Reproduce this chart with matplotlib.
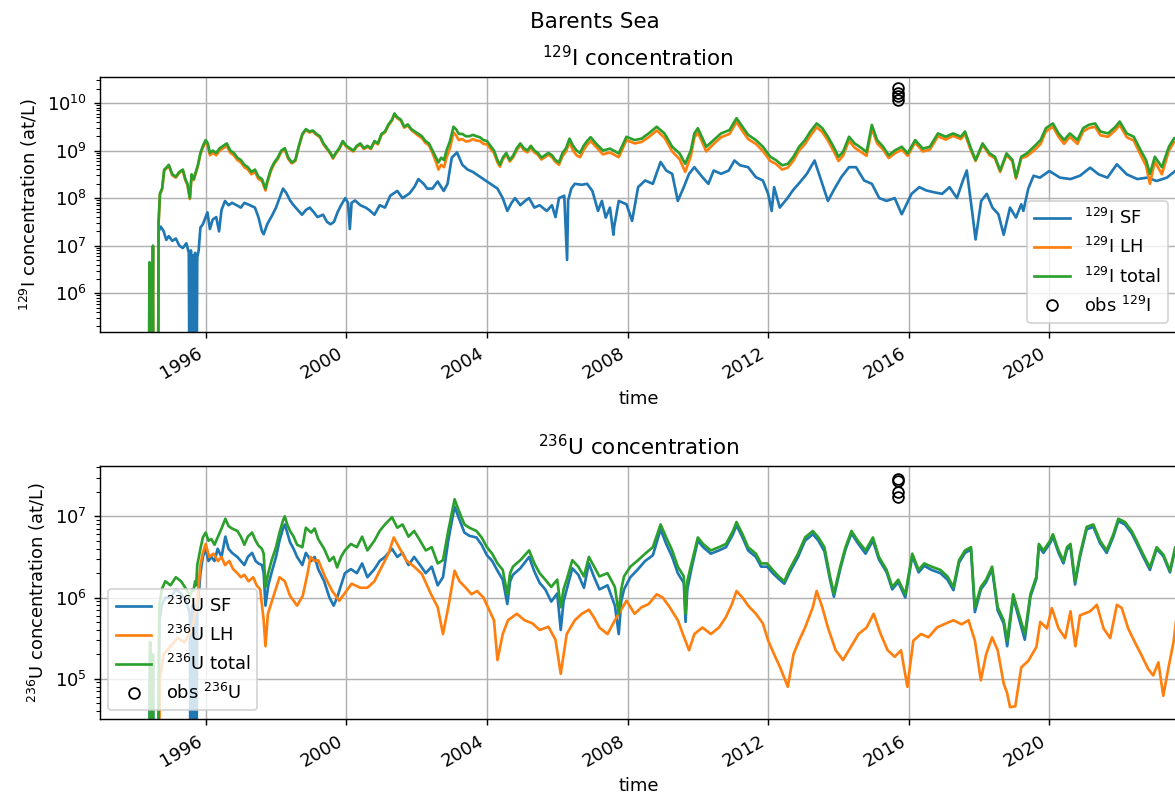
import numpy as np
import matplotlib
matplotlib.use("Agg")
import matplotlib.pyplot as plt

# ---- data (time in decimal years, values as log10 at/L) ----
# values of 2 / 3 mean "essentially zero" (line drops below the axis)

# 129I total and 129I LH share one time grid
i_t = [1994.38, 1994.40, 1994.43, 1994.46, 1994.50, 1994.52, 1994.64, 1994.66, 1994.70, 1994.76,
       1994.82, 1994.88, 1994.95, 1995.05, 1995.15, 1995.25, 1995.35, 1995.42, 1995.48, 1995.55,
       1995.60, 1995.66, 1995.72, 1995.78, 1995.85, 1995.92, 1996.00, 1996.06, 1996.12, 1996.20,
       1996.30, 1996.40, 1996.50, 1996.60, 1996.70, 1996.80, 1996.90, 1997.00, 1997.10, 1997.20,
       1997.30, 1997.40, 1997.50, 1997.60, 1997.70, 1997.75, 1997.85, 1997.95, 1998.05, 1998.15,
       1998.25, 1998.35, 1998.45, 1998.55, 1998.65, 1998.75, 1998.85, 1998.95, 1999.05, 1999.15,
       1999.25, 1999.35, 1999.45, 1999.55, 1999.62, 1999.70, 1999.80, 1999.90, 2000.00, 2000.10,
       2000.20, 2000.30, 2000.40, 2000.50, 2000.60, 2000.70, 2000.80, 2000.90, 2001.00, 2001.10,
       2001.20, 2001.30, 2001.37, 2001.45, 2001.55, 2001.65, 2001.75, 2001.85, 2001.95, 2002.05,
       2002.15, 2002.25, 2002.35, 2002.45, 2002.55, 2002.62, 2002.70, 2002.78, 2002.85, 2002.95,
       2003.05, 2003.12, 2003.20, 2003.30, 2003.40, 2003.50, 2003.60, 2003.70, 2003.80, 2003.90,
       2004.00, 2004.10, 2004.20, 2004.30, 2004.37, 2004.45, 2004.55, 2004.65, 2004.75, 2004.85,
       2004.95, 2005.05, 2005.15, 2005.25, 2005.35, 2005.45, 2005.55, 2005.65, 2005.75, 2005.85,
       2005.95, 2006.05, 2006.15, 2006.25, 2006.35, 2006.45, 2006.55, 2006.65, 2006.75, 2006.85,
       2006.95, 2007.10, 2007.30, 2007.50, 2007.75, 2007.97, 2008.20, 2008.40, 2008.60, 2008.83,
       2009.05, 2009.27, 2009.48, 2009.64, 2009.80, 2009.90, 2010.00, 2010.24, 2010.45, 2010.66,
       2010.90, 2011.10, 2011.27, 2011.43, 2011.65, 2011.85, 2012.06, 2012.22, 2012.40, 2012.56,
       2012.72, 2012.88, 2013.05, 2013.20, 2013.38, 2013.54, 2013.70, 2013.86, 2014.00, 2014.13,
       2014.30, 2014.46, 2014.60, 2014.80, 2014.95, 2015.10, 2015.27, 2015.43, 2015.60, 2015.80,
       2015.97, 2016.18, 2016.40, 2016.60, 2016.83, 2017.05, 2017.26, 2017.48, 2017.60, 2017.75,
       2017.90, 2018.10, 2018.30, 2018.45, 2018.60, 2018.78, 2018.95, 2019.05, 2019.20, 2019.36,
       2019.56, 2019.75, 2019.90, 2020.10, 2020.26, 2020.42, 2020.58, 2020.80, 2020.96, 2021.12,
       2021.30, 2021.45, 2021.67, 2021.88, 2022.00, 2022.20, 2022.40, 2022.60, 2022.75, 2022.86,
       2023.00, 2023.20, 2023.40, 2023.55, 2023.75]
i_total = [2, 6.65, 6.60, 2, 7.00, 2, 2, 7.50, 8.10, 8.20,
           8.60, 8.64, 8.70, 8.50, 8.45, 8.55, 8.60, 8.40, 8.30, 8.00,
           8.50, 8.40, 8.55, 8.70, 8.95, 9.10, 9.22, 9.15, 8.95, 9.00,
           8.95, 9.05, 9.10, 9.15, 9.00, 8.95, 8.85, 8.80, 8.70, 8.65,
           8.55, 8.60, 8.45, 8.40, 8.20, 8.35, 8.60, 8.75, 8.85, 9.00,
           9.05, 8.85, 8.75, 8.80, 9.10, 9.35, 9.45, 9.40, 9.42, 9.35,
           9.30, 9.15, 9.05, 8.95, 8.85, 8.95, 9.05, 9.20, 9.10, 9.05,
           9.00, 9.10, 9.15, 9.05, 9.10, 9.05, 9.20, 9.15, 9.35, 9.40,
           9.55, 9.65, 9.78, 9.70, 9.65, 9.50, 9.55, 9.45, 9.40, 9.35,
           9.30, 9.20, 9.15, 9.00, 8.85, 8.75, 8.85, 8.80, 9.00, 9.20,
           9.50, 9.45, 9.35, 9.35, 9.30, 9.30, 9.33, 9.30, 9.28, 9.22,
           9.20, 9.10, 9.00, 8.80, 8.70, 8.85, 8.95, 8.80, 8.90, 9.05,
           9.15, 9.05, 9.00, 9.10, 9.00, 8.95, 8.85, 8.90, 8.95, 8.90,
           8.80, 8.75, 8.95, 9.05, 9.25, 9.10, 9.00, 8.95, 9.10, 9.20,
           9.28, 9.15, 9.00, 9.04, 8.94, 9.29, 9.22, 9.25, 9.36, 9.50,
           9.36, 9.08, 8.94, 8.72, 9.00, 9.36, 9.47, 9.08, 9.22, 9.36,
           9.43, 9.68, 9.50, 9.33, 9.22, 9.08, 8.87, 8.80, 8.69, 8.72,
           8.87, 9.08, 9.22, 9.40, 9.57, 9.47, 9.29, 9.08, 8.87, 8.97,
           9.29, 9.15, 9.08, 8.97, 9.54, 9.22, 9.08, 8.90, 9.00, 9.08,
           8.94, 9.22, 9.04, 9.08, 9.36, 9.29, 9.36, 9.29, 9.40, 9.08,
           8.80, 9.15, 8.94, 8.87, 8.58, 8.94, 8.80, 8.44, 8.87, 8.94,
           9.08, 9.22, 9.47, 9.57, 9.36, 9.22, 9.36, 9.22, 9.47, 9.54,
           9.57, 9.40, 9.36, 9.50, 9.61, 9.36, 9.29, 9.00, 8.80, 8.51,
           8.87, 8.65, 9.08, 9.26, 9.30]
i_lh = [2, 6.63, 6.58, 2, 6.98, 2, 2, 7.46, 8.08, 8.18,
        8.58, 8.62, 8.68, 8.48, 8.43, 8.53, 8.58, 8.38, 8.28, 7.98,
        8.48, 8.38, 8.53, 8.68, 8.92, 9.06, 9.18, 9.10, 8.90, 8.95,
        8.90, 9.00, 9.05, 9.10, 8.95, 8.90, 8.80, 8.75, 8.65, 8.60,
        8.50, 8.55, 8.40, 8.36, 8.16, 8.31, 8.56, 8.72, 8.82, 8.97,
        9.02, 8.82, 8.73, 8.78, 9.08, 9.33, 9.43, 9.38, 9.40, 9.33,
        9.28, 9.13, 9.03, 8.93, 8.83, 8.93, 9.03, 9.18, 9.08, 9.03,
        8.98, 9.08, 9.13, 9.03, 9.08, 9.03, 9.18, 9.13, 9.33, 9.38,
        9.53, 9.63, 9.76, 9.68, 9.63, 9.48, 9.53, 9.43, 9.37, 9.31,
        9.26, 9.16, 9.11, 8.95, 8.76, 8.60, 8.70, 8.65, 8.85, 9.05,
        9.38, 9.32, 9.22, 9.24, 9.19, 9.20, 9.24, 9.21, 9.20, 9.14,
        9.13, 9.04, 8.95, 8.75, 8.66, 8.81, 8.92, 8.77, 8.86, 9.01,
        9.11, 9.01, 8.96, 9.06, 8.96, 8.91, 8.81, 8.86, 8.91, 8.86,
        8.76, 8.70, 8.88, 8.98, 9.18, 9.00, 8.90, 8.86, 9.01, 9.12,
        9.20, 9.08, 8.92, 8.96, 8.86, 9.22, 9.15, 9.18, 9.28, 9.42,
        9.27, 8.98, 8.82, 8.55, 8.88, 9.27, 9.38, 8.98, 9.14, 9.28,
        9.35, 9.60, 9.41, 9.24, 9.14, 8.99, 8.78, 8.72, 8.60, 8.64,
        8.79, 9.00, 9.14, 9.31, 9.49, 9.39, 9.21, 8.99, 8.78, 8.89,
        9.21, 9.06, 8.99, 8.89, 9.46, 9.15, 9.02, 8.84, 8.94, 9.02,
        8.89, 9.17, 8.98, 9.02, 9.30, 9.23, 9.31, 9.24, 9.35, 9.03,
        8.78, 9.12, 8.90, 8.84, 8.55, 8.91, 8.77, 8.41, 8.84, 8.88,
        9.00, 9.14, 9.40, 9.50, 9.29, 9.14, 9.29, 9.14, 9.40, 9.47,
        9.50, 9.32, 9.29, 9.43, 9.54, 9.28, 9.21, 8.90, 8.68, 8.30,
        8.77, 8.50, 9.00, 9.18, 9.22]

# 129I SF (Sellafield)
i_sf_t = [1994.64, 1994.66, 1994.72, 1994.80, 1994.88, 1994.95, 1995.05, 1995.15, 1995.25, 1995.35,
          1995.45, 1995.52, 1995.55, 1995.58, 1995.61, 1995.64, 1995.67, 1995.70, 1995.73, 1995.76,
          1995.80, 1995.85, 1995.92, 1996.00, 1996.05, 1996.12, 1996.20, 1996.30, 1996.38, 1996.45,
          1996.55, 1996.65, 1996.75, 1996.88, 1997.00, 1997.10, 1997.26, 1997.40, 1997.50, 1997.60,
          1997.65, 1997.75, 1997.90, 1998.00, 1998.10, 1998.20, 1998.30, 1998.40, 1998.50, 1998.62,
          1998.74, 1998.85, 1998.96, 1999.08, 1999.18, 1999.34, 1999.45, 1999.55, 1999.65, 1999.75,
          1999.85, 1999.97, 2000.05, 2000.10, 2000.15, 2000.25, 2000.40, 2000.55, 2000.65, 2000.80,
          2000.95, 2001.10, 2001.25, 2001.45, 2001.60, 2001.80, 2001.95, 2002.05, 2002.20, 2002.30,
          2002.45, 2002.60, 2002.77, 2002.88, 2003.00, 2003.15, 2003.30, 2003.45, 2003.60, 2003.70,
          2003.90, 2004.10, 2004.30, 2004.45, 2004.58, 2004.70, 2004.80, 2004.95, 2005.10, 2005.20,
          2005.35, 2005.50, 2005.70, 2005.85, 2005.95, 2006.05, 2006.20, 2006.28, 2006.31, 2006.40,
          2006.50, 2006.70, 2006.85, 2007.00, 2007.16, 2007.27, 2007.38, 2007.50, 2007.60, 2007.62,
          2007.75, 2007.97, 2008.13, 2008.30, 2008.50, 2008.72, 2008.94, 2009.10, 2009.27, 2009.43,
          2009.60, 2009.75, 2009.90, 2010.13, 2010.30, 2010.45, 2010.66, 2010.88, 2011.04, 2011.20,
          2011.43, 2011.65, 2011.85, 2012.00, 2012.10, 2012.17, 2012.33, 2012.55, 2012.70, 2012.90,
          2013.10, 2013.32, 2013.54, 2013.70, 2013.86, 2014.08, 2014.30, 2014.50, 2014.73, 2014.95,
          2015.16, 2015.37, 2015.60, 2015.80, 2016.08, 2016.30, 2016.50, 2016.73, 2016.95, 2017.16,
          2017.37, 2017.54, 2017.65, 2017.80, 2017.90, 2018.06, 2018.22, 2018.38, 2018.55, 2018.70,
          2018.88, 2019.05, 2019.20, 2019.26, 2019.40, 2019.55, 2019.73, 2020.00, 2020.30, 2020.60,
          2020.87, 2021.16, 2021.40, 2021.65, 2021.92, 2022.20, 2022.50, 2022.78, 2023.05, 2023.34,
          2023.58, 2023.75]
i_sf = [2, 7.30, 7.40, 7.31, 7.12, 7.20, 7.10, 7.15, 7.00, 6.95,
        7.05, 6.85, 2, 6.90, 2, 6.80, 2, 6.85, 2, 6.75,
        6.90, 7.38, 7.45, 7.60, 7.70, 7.35, 7.55, 7.60, 7.30, 7.75,
        7.94, 7.85, 7.90, 7.85, 7.80, 7.90, 7.85, 7.80, 7.60, 7.30,
        7.24, 7.45, 7.65, 7.80, 8.00, 8.20, 8.10, 7.95, 7.85, 7.75,
        7.65, 7.75, 7.80, 7.70, 7.60, 7.65, 7.50, 7.45, 7.50, 7.70,
        7.85, 8.00, 7.90, 7.35, 7.90, 7.95, 7.85, 7.80, 7.75, 7.65,
        7.85, 7.80, 8.05, 8.15, 8.00, 8.10, 8.25, 8.40, 8.30, 8.20,
        8.20, 8.35, 8.15, 8.30, 8.85, 8.96, 8.70, 8.60, 8.55, 8.50,
        8.40, 8.30, 8.20, 8.00, 7.73, 7.90, 8.00, 7.85, 7.95, 8.00,
        7.80, 7.85, 7.73, 7.85, 7.60, 8.00, 8.05, 6.70, 7.95, 8.20,
        8.30, 8.28, 8.30, 8.15, 7.73, 7.94, 7.59, 7.80, 7.23, 7.40,
        7.94, 7.87, 7.52, 8.23, 8.37, 8.30, 8.76, 8.58, 8.51, 7.94,
        8.23, 8.51, 8.65, 8.44, 8.30, 8.58, 8.51, 8.58, 8.79, 8.69,
        8.65, 8.44, 8.37, 8.09, 7.73, 8.23, 7.80, 8.00, 8.16, 8.33,
        8.51, 8.79, 8.30, 7.94, 8.16, 8.44, 8.65, 8.65, 8.37, 8.30,
        8.00, 7.94, 8.00, 7.66, 8.09, 8.23, 8.16, 8.12, 8.09, 8.23,
        8.00, 8.37, 8.58, 7.73, 7.13, 7.94, 8.09, 7.80, 7.66, 7.23,
        7.80, 7.59, 7.87, 7.73, 8.20, 8.47, 8.43, 8.57, 8.43, 8.40,
        8.47, 8.64, 8.50, 8.43, 8.71, 8.50, 8.40, 8.43, 8.36, 8.43,
        8.57, 8.50]

# 236U total and 236U SF share one time grid
u_t = [1994.38, 1994.42, 1994.45, 1994.50, 1994.52, 1994.64, 1994.68, 1994.75, 1994.85, 1995.00,
       1995.15, 1995.30, 1995.45, 1995.55, 1995.57, 1995.62, 1995.65, 1995.70, 1995.73, 1995.76,
       1995.85, 1995.92, 1996.00, 1996.08, 1996.16, 1996.25, 1996.34, 1996.45, 1996.56, 1996.65,
       1996.75, 1996.90, 1997.00, 1997.10, 1997.20, 1997.32, 1997.42, 1997.50, 1997.60, 1997.65,
       1997.70, 1997.78, 1997.87, 1998.00, 1998.10, 1998.20, 1998.25, 1998.32, 1998.40, 1998.50,
       1998.60, 1998.75, 1998.85, 1999.00, 1999.10, 1999.20, 1999.37, 1999.52, 1999.64, 1999.74,
       1999.85, 1999.96, 2000.13, 2000.30, 2000.45, 2000.60, 2000.80, 2000.95, 2001.10, 2001.30,
       2001.45, 2001.60, 2001.77, 2001.93, 2002.10, 2002.26, 2002.43, 2002.60, 2002.75, 2002.90,
       2003.08, 2003.20, 2003.36, 2003.50, 2003.70, 2003.85, 2004.00, 2004.15, 2004.30, 2004.45,
       2004.58, 2004.66, 2004.74, 2004.95, 2005.20, 2005.35, 2005.50, 2005.66, 2005.83, 2006.00,
       2006.10, 2006.18, 2006.27, 2006.43, 2006.60, 2006.76, 2006.90, 2007.05, 2007.20, 2007.43,
       2007.64, 2007.75, 2007.82, 2007.90, 2008.08, 2008.30, 2008.50, 2008.72, 2008.94, 2009.10,
       2009.27, 2009.43, 2009.60, 2009.65, 2009.70, 2009.82, 2010.00, 2010.15, 2010.37, 2010.60,
       2010.80, 2011.00, 2011.10, 2011.27, 2011.43, 2011.65, 2011.80, 2011.97, 2012.13, 2012.30,
       2012.46, 2012.60, 2012.85, 2013.05, 2013.27, 2013.43, 2013.60, 2013.76, 2013.87, 2014.05,
       2014.20, 2014.37, 2014.55, 2014.77, 2014.98, 2015.15, 2015.37, 2015.53, 2015.70, 2015.90,
       2016.10, 2016.28, 2016.44, 2016.65, 2016.90, 2017.10, 2017.27, 2017.43, 2017.60, 2017.77,
       2017.88, 2018.05, 2018.20, 2018.37, 2018.53, 2018.70, 2018.80, 2018.97, 2019.13, 2019.30,
       2019.46, 2019.63, 2019.70, 2019.83, 2020.02, 2020.10, 2020.26, 2020.40, 2020.50, 2020.60,
       2020.73, 2020.87, 2021.06, 2021.25, 2021.44, 2021.63, 2021.82, 2021.96, 2022.15, 2022.34,
       2022.48, 2022.67, 2022.86, 2023.05, 2023.24, 2023.43, 2023.58, 2023.75]
u_total = [3, 5.45, 3, 5.30, 3, 3, 5.90, 6.10, 6.20, 6.15,
           6.25, 6.20, 6.10, 6.00, 6.05, 6.10, 6.08, 6.20, 6.15, 6.40,
           6.60, 6.74, 6.80, 6.70, 6.72, 6.65, 6.74, 6.85, 6.97, 6.88,
           6.85, 6.82, 6.75, 6.65, 6.75, 6.80, 6.70, 6.64, 6.60, 6.54,
           6.13, 6.30, 6.45, 6.62, 6.80, 6.95, 7.00, 6.90, 6.82, 6.75,
           6.65, 6.62, 6.86, 6.80, 6.85, 6.72, 6.60, 6.45, 6.50, 6.37,
           6.50, 6.58, 6.66, 6.62, 6.75, 6.58, 6.70, 6.82, 6.90, 6.99,
           6.86, 6.90, 6.75, 6.82, 6.70, 6.58, 6.62, 6.42, 6.46, 6.82,
           7.21, 7.07, 6.90, 6.86, 6.82, 6.74, 6.62, 6.54, 6.42, 6.34,
           6.04, 6.30, 6.38, 6.46, 6.58, 6.42, 6.30, 6.22, 6.13, 6.22,
           5.88, 6.10, 6.22, 6.46, 6.38, 6.26, 6.50, 6.38, 6.26, 6.30,
           6.13, 5.80, 6.10, 6.26, 6.38, 6.46, 6.54, 6.62, 6.90, 6.74,
           6.58, 6.38, 6.26, 5.80, 6.20, 6.42, 6.74, 6.66, 6.58, 6.62,
           6.66, 6.82, 6.93, 6.78, 6.62, 6.54, 6.42, 6.42, 6.34, 6.26,
           6.20, 6.34, 6.54, 6.74, 6.82, 6.74, 6.62, 6.26, 6.05, 6.38,
           6.62, 6.82, 6.70, 6.58, 6.74, 6.50, 6.34, 6.13, 6.22, 6.04,
           6.54, 6.34, 6.42, 6.38, 6.34, 6.26, 6.13, 6.46, 6.58, 6.62,
           5.88, 6.13, 6.22, 6.38, 5.88, 5.72, 5.47, 6.04, 5.80, 5.55,
           6.04, 6.26, 6.66, 6.58, 6.70, 6.78, 6.58, 6.45, 6.62, 6.66,
           6.20, 6.53, 6.87, 6.90, 6.70, 6.58, 6.78, 6.97, 6.93, 6.82,
           6.70, 6.53, 6.37, 6.62, 6.53, 6.33, 6.62, 6.55]
u_sf = [3, 5.30, 3, 5.20, 3, 3, 5.70, 5.90, 6.00, 6.00,
        6.10, 6.05, 5.95, 5.80, 3, 5.90, 3, 5.90, 3, 5.80,
        6.30, 6.50, 6.60, 6.45, 6.50, 6.45, 6.60, 6.50, 6.75, 6.60,
        6.55, 6.50, 6.45, 6.40, 6.50, 6.55, 6.45, 6.42, 6.40, 6.30,
        5.90, 6.15, 6.30, 6.50, 6.70, 6.85, 6.90, 6.80, 6.68, 6.60,
        6.50, 6.40, 6.55, 6.45, 6.50, 6.35, 6.20, 6.00, 5.90, 6.00,
        6.15, 6.30, 6.35, 6.30, 6.42, 6.25, 6.35, 6.45, 6.50, 6.60,
        6.50, 6.55, 6.40, 6.50, 6.40, 6.30, 6.38, 6.15, 6.25, 6.70,
        7.12, 6.98, 6.80, 6.76, 6.74, 6.65, 6.52, 6.45, 6.33, 6.22,
        5.92, 6.20, 6.28, 6.36, 6.50, 6.32, 6.18, 6.10, 5.95, 6.05,
        5.60, 5.95, 6.10, 6.36, 6.28, 6.12, 6.42, 6.25, 6.10, 6.15,
        5.90, 5.55, 5.95, 6.10, 6.25, 6.35, 6.45, 6.52, 6.84, 6.66,
        6.50, 6.30, 6.18, 5.70, 6.10, 6.36, 6.70, 6.62, 6.54, 6.58,
        6.62, 6.78, 6.89, 6.74, 6.58, 6.50, 6.38, 6.38, 6.30, 6.23,
        6.17, 6.30, 6.50, 6.70, 6.78, 6.70, 6.57, 6.22, 6.01, 6.35,
        6.59, 6.79, 6.67, 6.54, 6.70, 6.47, 6.31, 6.10, 6.19, 6.00,
        6.51, 6.31, 6.39, 6.34, 6.30, 6.22, 6.09, 6.43, 6.55, 6.59,
        5.82, 6.10, 6.19, 6.35, 5.84, 5.68, 5.40, 6.00, 5.75, 5.48,
        6.01, 6.23, 6.63, 6.55, 6.67, 6.75, 6.55, 6.42, 6.59, 6.63,
        6.16, 6.50, 6.84, 6.87, 6.67, 6.55, 6.75, 6.94, 6.90, 6.79,
        6.67, 6.50, 6.34, 6.60, 6.51, 6.31, 6.60, 6.52]

# 236U LH (La Hague)
u_lh_t = [1994.38, 1994.45, 1994.64, 1994.70, 1994.80, 1995.00, 1995.20, 1995.40, 1995.60, 1995.75,
          1995.85, 1995.92, 1996.00, 1996.10, 1996.22, 1996.35, 1996.45, 1996.55, 1996.67, 1996.78,
          1996.90, 1997.00, 1997.10, 1997.22, 1997.35, 1997.45, 1997.55, 1997.65, 1997.70, 1997.77,
          1997.93, 1998.10, 1998.25, 1998.40, 1998.60, 1998.76, 1998.90, 1998.98, 1999.10, 1999.20,
          1999.40, 1999.60, 1999.80, 2000.00, 2000.15, 2000.40, 2000.60, 2000.80, 2000.95, 2001.20,
          2001.35, 2001.50, 2001.70, 2001.93, 2002.15, 2002.40, 2002.60, 2002.75, 2002.90, 2003.08,
          2003.22, 2003.40, 2003.56, 2003.72, 2003.90, 2004.03, 2004.20, 2004.30, 2004.45, 2004.60,
          2004.85, 2005.07, 2005.30, 2005.50, 2005.75, 2005.95, 2006.10, 2006.27, 2006.50, 2006.70,
          2006.90, 2007.05, 2007.20, 2007.43, 2007.64, 2007.97, 2008.20, 2008.40, 2008.60, 2008.83,
          2009.00, 2009.20, 2009.43, 2009.60, 2009.75, 2009.90, 2010.13, 2010.37, 2010.60, 2010.80,
          2010.97, 2011.10, 2011.27, 2011.43, 2011.65, 2011.85, 2012.00, 2012.17, 2012.34, 2012.56,
          2012.72, 2012.88, 2013.05, 2013.27, 2013.38, 2013.54, 2013.70, 2013.92, 2014.13, 2014.35,
          2014.57, 2014.80, 2015.00, 2015.20, 2015.40, 2015.60, 2015.78, 2015.96, 2016.13, 2016.35,
          2016.56, 2016.80, 2017.00, 2017.27, 2017.50, 2017.70, 2017.88, 2018.05, 2018.20, 2018.37,
          2018.53, 2018.70, 2018.80, 2018.88, 2019.03, 2019.20, 2019.40, 2019.63, 2019.74, 2019.93,
          2020.07, 2020.26, 2020.45, 2020.60, 2020.74, 2020.87, 2021.16, 2021.35, 2021.54, 2021.73,
          2021.92, 2022.06, 2022.24, 2022.43, 2022.62, 2022.81, 2022.95, 2023.10, 2023.24, 2023.38,
          2023.53, 2023.60, 2023.75]
u_lh = [3, 3, 3, 5.00, 5.30, 5.40, 5.50, 5.45, 5.60, 5.90,
        6.40, 6.55, 6.66, 6.50, 6.54, 6.45, 6.50, 6.40, 6.45, 6.35,
        6.30, 6.25, 6.28, 6.20, 6.25, 6.15, 6.10, 5.72, 5.40, 5.80,
        6.02, 6.25, 6.20, 6.02, 5.90, 6.02, 6.30, 6.50, 6.45, 6.46,
        6.25, 6.08, 5.96, 6.08, 6.17, 6.12, 6.12, 6.20, 6.33, 6.54,
        6.74, 6.62, 6.46, 6.38, 6.29, 6.05, 5.88, 5.55, 5.88, 6.33,
        6.20, 6.12, 6.04, 6.08, 6.00, 5.88, 5.72, 5.23, 5.55, 5.72,
        5.80, 5.72, 5.68, 5.60, 5.64, 5.48, 5.06, 5.55, 5.72, 5.80,
        5.85, 5.75, 5.63, 5.55, 5.72, 5.96, 5.80, 5.88, 5.92, 6.04,
        6.00, 5.88, 5.72, 5.52, 5.35, 5.55, 5.63, 5.55, 5.63, 5.76,
        5.92, 6.08, 6.00, 5.90, 5.80, 5.68, 5.47, 5.30, 5.14, 4.90,
        5.30, 5.47, 5.63, 5.88, 6.08, 5.88, 5.63, 5.35, 5.23, 5.39,
        5.55, 5.63, 5.80, 5.55, 5.35, 5.27, 5.35, 4.90, 5.47, 5.55,
        5.51, 5.63, 5.67, 5.72, 5.67, 5.72, 5.47, 4.98, 5.30, 5.51,
        5.35, 4.94, 4.82, 4.65, 4.66, 5.14, 5.22, 5.39, 5.70, 5.62,
        5.87, 5.62, 5.50, 5.83, 5.40, 5.78, 5.83, 5.91, 5.62, 5.50,
        5.91, 5.87, 5.62, 5.45, 5.29, 5.12, 5.04, 5.20, 4.79, 5.12,
        5.45, 5.70, 5.75]

# observations (autumn 2015)
obs_i_t = [2015.70, 2015.70, 2015.70, 2015.70]
obs_i = [10.31, 10.22, 10.14, 10.06]
obs_u_t = [2015.70, 2015.70, 2015.70, 2015.70]
obs_u = [7.46, 7.44, 7.30, 7.24]

year_ticks = [1996, 2000, 2004, 2008, 2012, 2016, 2020]


def lin(v):
    return 10.0 ** np.asarray(v, dtype=float)


fig = plt.figure(figsize=(1175 / 129, 797 / 129), dpi=129)
fig.suptitle("Barents Sea", x=0.506, y=0.972, va="center")

ax1 = fig.add_axes([0.0847, 0.5838, 0.917, 0.3192])
ax2 = fig.add_axes([0.0847, 0.0975, 0.917, 0.3178])

ax1.plot(i_sf_t, lin(i_sf), color="C0", label=r"$^{129}$I SF")
ax1.plot(i_t, lin(i_lh), color="C1", label=r"$^{129}$I LH")
ax1.plot(i_t, lin(i_total), color="C2", label=r"$^{129}$I total")
ax1.plot(obs_i_t, lin(obs_i), "o", mfc="none", mec="k", label=r"obs $^{129}$I")
ax1.set_yscale("log")
ax1.set_ylim(10 ** 5.19, 10 ** 10.54)
ax1.set_title(r"$^{129}$I concentration")
ax1.set_ylabel(r"$^{129}$I concentration (at/L)")
ax1.legend(loc="lower right")

ax2.plot(u_t, lin(u_sf), color="C0", label=r"$^{236}$U SF")
ax2.plot(u_lh_t, lin(u_lh), color="C1", label=r"$^{236}$U LH")
ax2.plot(u_t, lin(u_total), color="C2", label=r"$^{236}$U total")
ax2.plot(obs_u_t, lin(obs_u), "o", mfc="none", mec="k", label=r"obs $^{236}$U")
ax2.set_yscale("log")
ax2.set_ylim(10 ** 4.50, 10 ** 7.62)
ax2.set_title(r"$^{236}$U concentration")
ax2.set_ylabel(r"$^{236}$U concentration (at/L)")
ax2.legend(loc="lower left")

for ax in (ax1, ax2):
    ax.set_xlim(1992.98, 2023.63)
    ax.set_xticks(year_ticks)
    ax.set_xticklabels([str(y) for y in year_ticks], rotation=30, ha="right")
    ax.set_xlabel("time")
    ax.grid(True)

fig.savefig("out.png", dpi=129)
